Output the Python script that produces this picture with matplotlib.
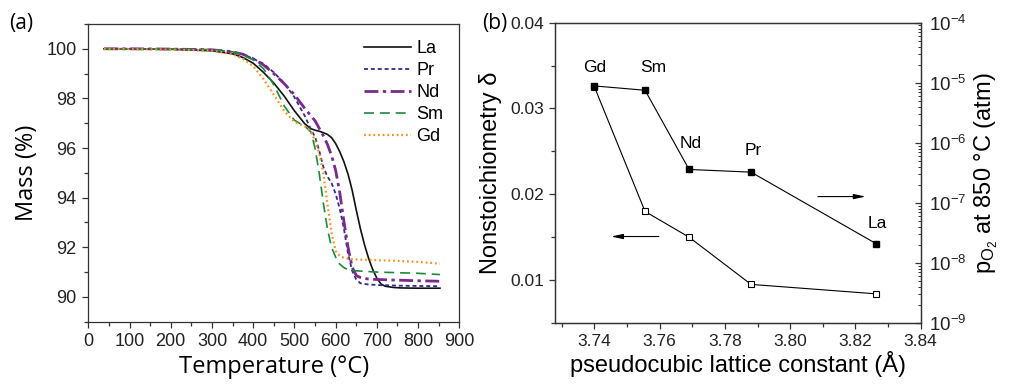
import numpy as np
import matplotlib
matplotlib.use('Agg')
import matplotlib.pyplot as plt
from matplotlib.ticker import MultipleLocator, LogLocator, NullFormatter, FormatStrFormatter

plt.rcParams['font.family'] = ['Liberation Sans', 'DejaVu Sans']
plt.rcParams['mathtext.default'] = 'regular'

# (a) TGA curves
temp = [38, 100, 200, 300, 350, 375, 400, 425, 450, 475, 500, 525, 540, 550, 560,
        570, 580, 590, 600, 610, 620, 630, 640, 650, 660, 670, 680, 690, 700, 710,
        720, 740, 760, 800, 853]
mass_la = [100.0, 100.0, 99.98, 99.92, 99.8, 99.65, 99.42, 99.05, 98.62, 98.1,
           97.5, 96.98, 96.78, 96.72, 96.68, 96.62, 96.55, 96.42, 96.18, 95.85,
           95.45, 94.95, 94.3, 93.5, 92.75, 92.1, 91.55, 91.1, 90.75, 90.52,
           90.43, 90.38, 90.36, 90.35, 90.35]
mass_pr = [100.0, 100.0, 99.99, 99.96, 99.88, 99.78, 99.6, 99.4, 99.05, 98.62,
           98.05, 97.3, 96.75, 96.45, 95.9, 95.25, 94.85, 94.6, 94.15, 93.55,
           92.75, 91.75, 91.05, 90.7, 90.55, 90.52, 90.5, 90.49, 90.48, 90.47,
           90.47, 90.46, 90.45, 90.44, 90.43]
mass_nd = [100.0, 100.0, 99.99, 99.96, 99.88, 99.78, 99.6, 99.35, 99.0, 98.6,
           98.15, 97.6, 97.3, 97.1, 96.8, 96.5, 96.15, 95.7, 95.1, 94.2,
           93.05, 92.0, 91.2, 90.86, 90.78, 90.74, 90.72, 90.71, 90.7, 90.7,
           90.69, 90.68, 90.67, 90.65, 90.63]
mass_sm = [100.0, 100.0, 99.99, 99.97, 99.88, 99.75, 99.55, 99.2, 98.55, 97.7,
           97.12, 96.88, 96.65, 96.0, 95.0, 93.8, 92.75, 92.0, 91.6, 91.32,
           91.18, 91.1, 91.07, 91.05, 91.04, 91.03, 91.02, 91.01, 91.0, 91.0,
           90.99, 90.98, 90.97, 90.95, 90.9]
mass_gd = [100.0, 99.99, 99.97, 99.93, 99.78, 99.6, 99.3, 98.78, 98.15, 97.5,
           97.05, 96.88, 96.68, 96.3, 95.8, 95.0, 93.75, 92.6, 91.85, 91.65,
           91.57, 91.54, 91.52, 91.51, 91.5, 91.5, 91.49, 91.49, 91.48, 91.47,
           91.47, 91.46, 91.44, 91.41, 91.34]

# (b) nonstoichiometry and pO2 vs lattice constant
elements = ['Gd', 'Sm', 'Nd', 'Pr', 'La']
lattice = [3.740, 3.7555, 3.769, 3.788, 3.8263]
delta = [0.0325, 0.0180, 0.0150, 0.0095, 0.0084]
po2 = [8.85e-6, 7.5e-6, 3.6e-7, 3.25e-7, 2.1e-8]
label_offsets = [(0, 18), (8, 23), (2, 26), (2, 22), (1, 20)]  # pixels

spine_col = '#333333'
label_font = ['Open Sans', 'DejaVu Sans']

fig = plt.figure(figsize=(10.16, 3.86), dpi=100)

# ---------------- (a) ----------------
ax = fig.add_axes([0.0869, 0.1666, 0.3652, 0.7712])
ax.plot(temp, mass_la, color='#111111', lw=1.2, label='La')
ax.plot(temp, mass_pr, color='#2e2e8a', lw=1.3, ls=(0, (2.2, 1.6)), label='Pr')
ax.plot(temp, mass_nd, color='#7a2a8c', lw=2.0, ls=(0, (5, 1.6, 1.2, 1.6)), label='Nd')
ax.plot(temp, mass_sm, color='#1b8a3e', lw=1.2, ls=(0, (6, 3.5)), label='Sm')
ax.plot(temp, mass_gd, color='#f7901e', lw=1.6, ls=(0, (0.8, 1.3)), label='Gd')

ax.set_xlim(0, 900)
ax.set_ylim(89, 101)
ax.xaxis.set_major_locator(MultipleLocator(100))
ax.xaxis.set_minor_locator(MultipleLocator(50))
ax.yaxis.set_major_locator(MultipleLocator(2))
ax.yaxis.set_minor_locator(MultipleLocator(1))
ax.tick_params(which='both', direction='out', top=False, right=False,
               color=spine_col, labelsize=13, labelcolor='#222222', pad=4)
ax.tick_params(which='major', length=4.5, width=0.9)
ax.tick_params(which='minor', length=3, width=0.9)
for s in ax.spines.values():
    s.set_color(spine_col)
    s.set_linewidth(0.9)
ax.set_xlabel('Temperature (°C)', fontsize=17, family=label_font, labelpad=3)
ax.set_ylabel('Mass (%)', fontsize=17, family=label_font, labelpad=5)
leg = ax.legend(loc='upper right', bbox_to_anchor=(1.0, 1.0), frameon=False, fontsize=13,
                handlelength=2.6, handletextpad=0.3, labelspacing=0.28, borderaxespad=0.5)
fig.text(0.009, 0.925, '(a)', fontsize=15, family=label_font)

# ---------------- (b) ----------------
bx = fig.add_axes([0.5466, 0.1632, 0.3596, 0.7780])
bx.plot(lattice, delta, color='k', lw=0.8, marker='s', ms=4.6,
        markerfacecolor='white', markeredgecolor='k', markeredgewidth=0.8)
bx.set_xlim(3.728, 3.84)
bx.set_ylim(0.005, 0.04)
bx.xaxis.set_major_locator(MultipleLocator(0.02))
bx.xaxis.set_minor_locator(MultipleLocator(0.01))
bx.xaxis.set_major_formatter(FormatStrFormatter('%.2f'))
bx.yaxis.set_major_locator(MultipleLocator(0.01))
bx.yaxis.set_minor_locator(MultipleLocator(0.005))
bx.tick_params(which='both', direction='out', top=False, right=False,
               color=spine_col, labelsize=12.5, labelcolor='#222222')
bx.tick_params(which='major', length=4.5, width=0.9)
bx.tick_params(which='minor', length=3, width=0.9)
bx.set_xlabel('pseudocubic lattice constant (Å)', fontsize=17, labelpad=1)
bx.set_ylabel('Nonstoichiometry δ', fontsize=17, labelpad=6)

b2 = bx.twinx()
b2.plot(lattice, po2, color='k', lw=0.8, marker='s', ms=4.6,
        markerfacecolor='k', markeredgecolor='k')
b2.set_yscale('log')
b2.set_ylim(1e-9, 1e-4)
b2.yaxis.set_major_locator(LogLocator(base=10, numticks=10))
b2.yaxis.set_minor_locator(LogLocator(base=10, subs=np.arange(2, 10), numticks=20))
b2.yaxis.set_minor_formatter(NullFormatter())
b2.tick_params(which='both', direction='in', color=spine_col, labelsize=13.5,
               labelcolor='#222222', pad=6)
b2.tick_params(which='major', length=4.5, width=0.9)
b2.tick_params(which='minor', length=2.5, width=0.7)
b2.set_ylabel('p$_{O_2}$ at 850 °C (atm)', fontsize=17, labelpad=4)
for a in (bx, b2):
    for s in a.spines.values():
        s.set_color(spine_col)
        s.set_linewidth(0.9)
for a in (ax, bx, b2):
    a.xaxis.offsetText.set_visible(False)
    a.yaxis.offsetText.set_visible(False)

for name, x, y, off in zip(elements, lattice, po2, label_offsets):
    b2.annotate(name, xy=(x, y), xytext=off, textcoords='offset pixels',
                ha='center', va='center', fontsize=12.5)

bx.annotate('', xy=(0.145, 0.288), xytext=(0.291, 0.288), xycoords='axes fraction',
            arrowprops=dict(arrowstyle='-|>,head_length=0.7,head_width=0.15',
                            color='k', lw=0.8))
bx.annotate('', xy=(0.857, 0.421), xytext=(0.711, 0.421), xycoords='axes fraction',
            arrowprops=dict(arrowstyle='-|>,head_length=0.7,head_width=0.15',
                            color='k', lw=0.8))
fig.text(0.475, 0.925, '(b)', fontsize=15, family=label_font)

fig.savefig('out.png', dpi=100)
